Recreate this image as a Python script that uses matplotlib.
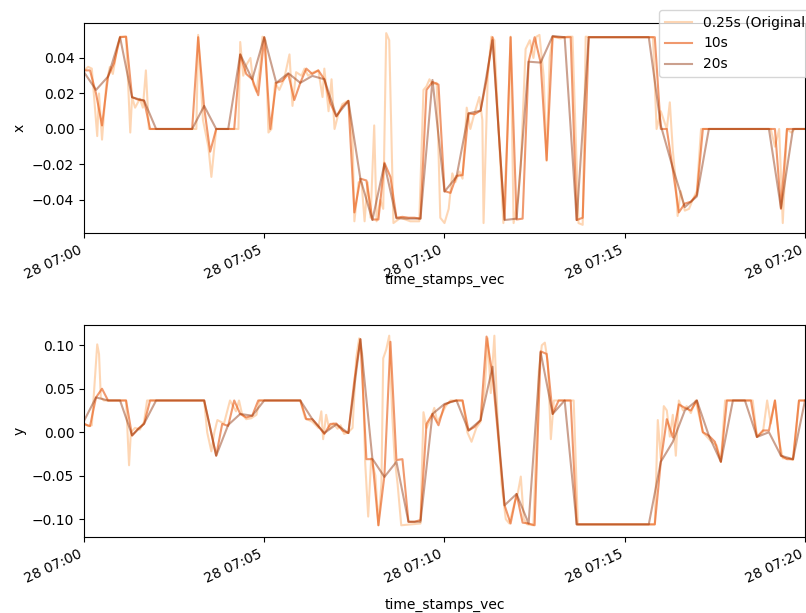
import numpy as np
import pandas as pd
import matplotlib
matplotlib.use("Agg")
import matplotlib.pyplot as plt
import matplotlib.dates as mdates

start = pd.Timestamp("2021-01-28 07:00:00")

# 20 s resampled
x_20s = [0.032, 0.022, 0.0295, 0.0517, 0.0178, 0.016, 0, 0, 0, 0,
         0.013, 0, 0, 0.042, 0.028, 0.0517, 0.026, 0.0314, 0.026, 0.0299,
         0.028, 0.0073, 0.0158, -0.028, -0.0513, -0.0197, -0.0503, -0.0505, -0.0505, 0.0276,
         -0.0353, -0.0269, 0.0088, 0.0103, 0.050, -0.0513, -0.0505, 0.0379, 0.0374, 0.0524,
         0.0517, -0.0513, 0.0517, 0.0517, 0.0517, 0.0517, 0.0517, 0.0517, 0.002, -0.022,
         -0.044, -0.038, 0, 0, 0, 0, 0, 0, -0.0445, 0,
         0]
y_20s = [0.013, 0.040, 0.0365, 0.0365, -0.0035, 0.0099, 0.0365, 0.0365, 0.0365, 0.0365,
         0.0365, -0.027, 0.0084, 0.021, 0.019, 0.0365, 0.0365, 0.0365, 0.0365, 0.015,
         -0.001, 0.009, -0.001, 0.107, -0.0306, -0.0514, -0.034, -0.103, -0.103, 0.021,
         0.0325, 0.0365, 0.002, 0.0138, 0.0753, -0.084, -0.071, -0.105, 0.092, 0.021,
         0.0365, -0.106, -0.106, -0.106, -0.106, -0.106, -0.106, -0.106, -0.034, -0.011,
         0.025, 0.0365, -0.004, -0.034, 0.0365, 0.0365, -0.0055, 0.0, -0.027, -0.031,
         0.0365]

# 10 s resampled
x_10s = [0.033, 0.033, 0.020, 0.002, 0.0295, 0.037, 0.0517, 0.052, 0.018, 0.0165,
         0.016, 0, 0, 0, 0, 0, 0, 0, 0, 0.0517,
         0.012, -0.0128, 0, 0, 0, 0, 0.042, 0.031, 0.028, 0.019,
         0.0517, 0.0, 0.026, 0.027, 0.031, 0.0163, 0.026, 0.034, 0.031, 0.033,
         0.028, 0.0146, 0.007, 0.0126, 0.0158, -0.047, -0.028, -0.029, -0.051, -0.051,
         -0.019, -0.027, -0.050, -0.0495, -0.050, -0.050, -0.0505, 0.022, 0.0265, 0.025,
         -0.035, -0.036, -0.0264, -0.026, 0.0088, 0.0083, 0.0103, 0.0276, 0.0517, 0.0,
         -0.051, 0.0517, -0.051, -0.0505, 0.038, 0.0517, 0.0374, -0.0175, 0.052, 0.0517,
         0.0517, 0.0517, -0.0513, -0.05, 0.0517, 0.0517, 0.0517, 0.0517, 0.0517, 0.0517,
         0.0517, 0.0517, 0.0517, 0.0517, 0.0517, 0.0517, 0.0, 0.0, -0.023, -0.047,
         -0.042, -0.041, -0.037, 0, 0, 0, 0, 0, 0, 0,
         0, 0, 0, 0, 0, 0, -0.045, 0, 0, 0,
         0]
y_10s = [0.0095, 0.007, 0.040, 0.050, 0.0365, 0.0365, 0.0365, 0.0365, -0.004, 0.004,
         0.0095, 0.0365, 0.0365, 0.0365, 0.0365, 0.0365, 0.0365, 0.0365, 0.0365, 0.0365,
         0.0365, 0.005, -0.027, 0.0095, 0.0073, 0.0365, 0.021, 0.017, 0.019, 0.0365,
         0.0365, 0.0365, 0.0365, 0.0365, 0.0365, 0.0365, 0.0365, 0.015, 0.015, 0.007,
         -0.002, 0.0095, 0.010, 0.002, -0.001, 0.06, 0.107, -0.031, -0.031, -0.107,
         -0.05, 0.104, -0.032, -0.031, -0.103, -0.103, -0.101, 0.0095, 0.021, 0.008,
         0.0315, 0.035, 0.0365, 0.0365, 0.002, 0.006, 0.0138, 0.110, 0.065, -0.01,
         -0.084, -0.105, -0.071, -0.104, -0.105, -0.107, 0.093, 0.090, 0.021, 0.0365,
         0.0365, 0.0365, -0.106, -0.106, -0.106, -0.106, -0.106, -0.106, -0.106, -0.106,
         -0.106, -0.106, -0.106, -0.106, -0.106, -0.106, -0.034, 0.015, -0.006, 0.032,
         0.028, 0.025, 0.0365, 0.0, -0.004, -0.011, -0.034, 0.0365, 0.0365, 0.0365,
         0.0365, 0.0365, -0.0055, 0.002, 0.002, 0.0365, -0.027, -0.031, -0.031, 0.0365,
         0.0365]

# 0.25 s original (seconds after 07:00, value)
orig_t_x = [0, 7, 13, 22, 25, 30, 37, 43, 48, 55, 60, 70, 77, 80, 85, 93, 98, 103, 108, 187,
            190, 198, 207, 212, 220, 257, 260, 265, 270, 277, 282, 287, 293, 297, 302, 307, 312, 318, 325, 333,
            342, 347, 353, 362, 367, 373, 382, 390, 397, 400, 407, 412, 417, 423, 430, 440, 447, 450, 457, 462,
            467, 472, 477, 483, 487, 493, 498, 503, 508, 515, 527, 543, 558, 565, 570, 575, 580, 587, 593, 600,
            607, 613, 618, 625, 630, 637, 643, 650, 658, 663, 665, 672, 678, 683, 690, 698, 705, 710, 715, 722,
            727, 735, 742, 748, 753, 758, 765, 770, 775, 780, 793, 805, 813, 818, 823, 830, 835, 843, 947, 953,
            960, 970, 975, 980, 985, 988, 993, 1000, 1007, 1013, 1020, 1027, 1143, 1150, 1157, 1163, 1170, 1177, 1183, 1200]
orig_x = [0.033, 0.035, 0.034, -0.004, 0.02, -0.006, 0.025, 0.035, 0.031, 0.045, 0.052, 0.052, -0.002, 0.018, 0.012, 0.017, 0.012, 0.033, 0.0, 0.0,
          0.053, 0.005, -0.01, -0.027, 0.0, 0.0, 0.049, 0.030, 0.036, 0.040, 0.025, 0.021, 0.035, 0.052, 0.050, -0.002, 0.0, 0.026, 0.022, 0.028,
          0.042, 0.013, 0.032, 0.030, 0.034, 0.030, 0.032, 0.033, 0.018, 0.034, 0.010, 0.028, 0.0, 0.008, 0.014, 0.016, -0.005, -0.052, -0.03, -0.03,
          -0.052, -0.03, -0.05, 0.002, -0.052, -0.04, -0.045, 0.054, 0.050, -0.053, -0.05, -0.052, -0.052, 0.022, 0.024, 0.028, 0.025, 0.026, -0.05, -0.053,
          -0.045, -0.025, -0.03, -0.024, -0.028, 0.012, 0.0, 0.009, 0.018, 0.005, -0.053, 0.03, 0.052, 0.050, 0.0, -0.053, 0.0, 0.052, -0.053, -0.04,
          -0.02, 0.045, 0.050, 0.040, 0.052, 0.053, 0.03, -0.018, 0.040, 0.052, 0.051, 0.052, 0.052, 0.0, -0.053, -0.054, 0.052, 0.0517, 0.0517, 0.0,
          0.01, 0.0, 0.015, -0.012, -0.03, -0.049, -0.035, -0.046, -0.045, -0.040, -0.035, 0.0, 0.0, -0.01, 0.0, -0.053, 0.0, -0.002, 0.0, 0.0]

orig_t_y = [0, 7, 13, 18, 22, 25, 28, 33, 70, 75, 78, 85, 93, 100, 105, 200, 205, 212, 217, 222,
            233, 243, 253, 258, 263, 270, 278, 287, 292, 360, 368, 380, 390, 395, 398, 403, 408, 415, 422, 427,
            433, 440, 447, 453, 458, 463, 468, 473, 478, 485, 490, 495, 498, 503, 508, 513, 517, 522, 528, 560,
            565, 570, 577, 583, 588, 595, 602, 610, 630, 638, 645, 653, 660, 667, 672, 677, 683, 688, 695, 702,
            708, 717, 722, 727, 732, 738, 748, 757, 762, 767, 772, 777, 782, 815, 822, 950, 955, 960, 965, 970,
            975, 980, 985, 990, 997, 1003, 1010, 1018, 1030, 1043, 1053, 1060, 1067, 1113, 1120, 1130, 1137, 1143, 1150, 1157,
            1163, 1173, 1180, 1185, 1190, 1200]
orig_y = [0.010, 0.007, 0.008, 0.06, 0.101, 0.09, 0.04, 0.0365, 0.0365, -0.038, 0.0, 0.005, 0.003, 0.012, 0.0365, 0.0365, 0.0, -0.022, 0.0, 0.014,
          0.010, 0.0365, 0.024, 0.0365, 0.021, 0.015, 0.016, 0.020, 0.0365, 0.0365, 0.016, 0.012, 0.005, 0.024, -0.008, 0.020, 0.004, 0.010, 0.004, 0.008,
          -0.002, 0.0, 0.005, 0.085, 0.108, 0.09, -0.035, -0.097, -0.03, -0.05, -0.107, -0.06, 0.085, 0.095, 0.111, 0.02, -0.03, -0.06, -0.107, -0.105,
          0.023, 0.005, 0.015, 0.028, 0.012, 0.020, 0.030, 0.0365, 0.0365, 0.0, -0.011, 0.005, 0.012, 0.05, 0.108, 0.045, 0.111, 0.02, -0.06, -0.1,
          -0.105, -0.08, -0.07, -0.051, -0.1, -0.106, -0.107, 0.07, 0.10, 0.103, 0.08, -0.008, 0.0365, 0.0365, -0.106, -0.106, 0.014, -0.03, 0.03, 0.025,
          -0.005, 0.02, -0.027, 0.0365, 0.025, 0.03, 0.022, 0.0365, 0.0, -0.01, -0.015, -0.034, 0.0365, 0.0365, -0.005, 0.0, 0.0365, 0.01, 0.0365, -0.01,
          -0.03, -0.03, -0.032, 0.0, 0.0365, 0.0365]

labels = ["0.25s (Original)", "10s", "20s"]
colors = ["#fdae6b", "#e6550d", "#8c2d04"]
alphas = [0.5, 0.6, 0.45]

t_10s = pd.date_range(start, periods=len(x_10s), freq="10s")
t_20s = pd.date_range(start, periods=len(x_20s), freq="20s")
t_orig_x = start + pd.to_timedelta(orig_t_x, unit="s")
t_orig_y = start + pd.to_timedelta(orig_t_y, unit="s")

fig = plt.figure(figsize=(8.06, 6.13), dpi=100)
ax1 = fig.add_axes([84 / 806, 1 - 233 / 613, 721 / 806, 210 / 613])
ax2 = fig.add_axes([84 / 806, 1 - 537 / 613, 721 / 806, 212 / 613])

panels = [
    (ax1, "x", [(t_orig_x, orig_x), (t_10s, x_10s), (t_20s, x_20s)], (-0.0586, 0.0597), -0.19),
    (ax2, "y", [(t_orig_y, orig_y), (t_10s, y_10s), (t_20s, y_20s)], (-0.1205, 0.1233), -0.285),
]

for ax, name, series, ylim, label_y in panels:
    for (t, v), lab, c, a in zip(series, labels, colors, alphas):
        ax.plot(t, v, color=c, alpha=a, lw=1.5, label=lab)
    ax.set_ylabel(name)
    ax.set_xlabel("time_stamps_vec")
    ax.xaxis.set_label_coords(0.5, label_y)
    ax.set_ylim(*ylim)
    ax.set_xlim(start, start + pd.Timedelta(minutes=20))
    ax.xaxis.set_major_locator(mdates.MinuteLocator(byminute=range(0, 60, 5)))
    ax.xaxis.set_major_formatter(mdates.DateFormatter("%d %H:%M"))
    for lbl in ax.get_xticklabels():
        lbl.set_rotation(25)
        lbl.set_ha("right")

ax1.legend(loc="upper left", bbox_to_anchor=(0.7975, 1.062), borderaxespad=0, framealpha=0.8)

fig.savefig("out.png", dpi=100)
